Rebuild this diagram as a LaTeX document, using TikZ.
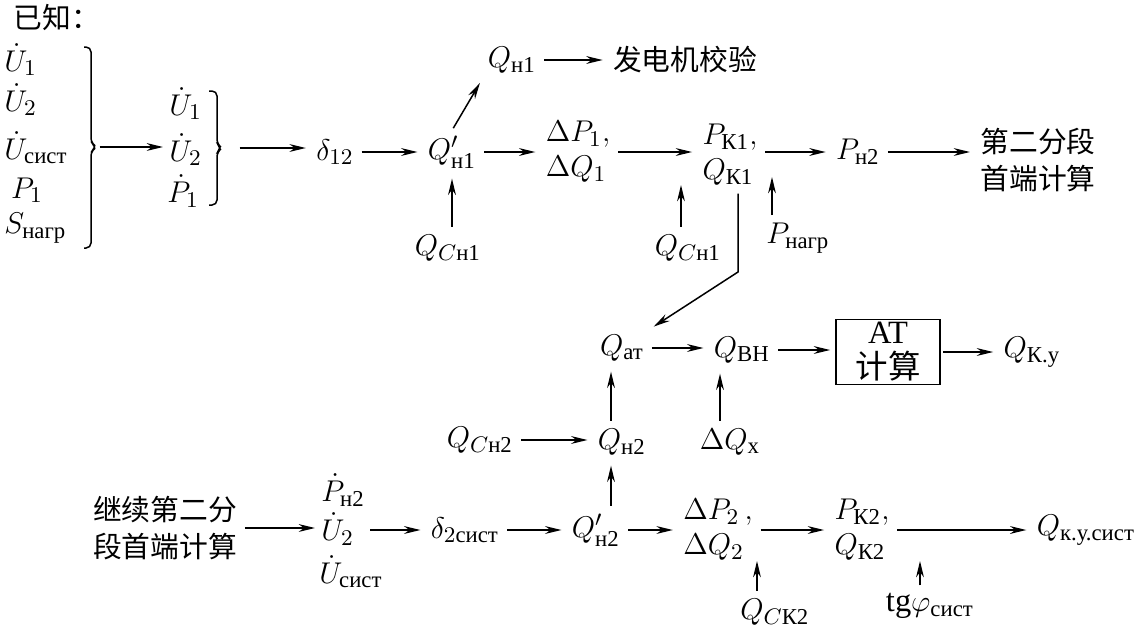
\documentclass[tikz,border=0pt]{standalone}
\usepackage{amsmath}
\usepackage{fontspec}
\setmainfont{Liberation Serif}
\newfontfamily\cjk{Noto Sans CJK SC}
\usetikzlibrary{arrows.meta}

\begin{document}
\begin{tikzpicture}[x=0.4pt, y=-0.4pt, every node/.style={font=\fontsize{13}{14}\selectfont, inner sep=2pt}]
\tikzstyle{flow}=[-{Stealth[length=2.3mm,width=1.1mm]}, line width=0.6pt, shorten <=1pt, shorten >=2pt]
\tikzstyle{zh}=[font=\fontsize{11.5}{15}\selectfont\cjk, align=center]
\tikzstyle{pair}=[align=left]
\tikzstyle{stack}=[anchor=west, inner sep=0.3pt]
\tikzstyle{calcbox}=[draw, line width=0.7pt, minimum width=41.6pt, minimum height=26pt, align=center, inner sep=1pt]
\tikzstyle{brace}=[line width=0.6pt, rounded corners=2pt]
\useasboundingbox (0,0) rectangle (1134,634);

% given data
\node[zh, anchor=west] (known) at (8,18) {已知：};
\node[stack] (u1a) at (3,60) {$\dot U_1$};
\node[stack] (u2a) at (3,100) {$\dot U_2$};
\node[stack] (usa) at (3,148) {$\dot U_{\text{сист}}$};
\node[stack] (p1a) at (10,190) {$P_1$};
\node[stack] (sa) at (3,228) {$S_{\text{нагр}}$};
\draw[brace] (84,47) -- (91,47) -- (91,143) -- (97,147) -- (91,151) -- (91,248) -- (84,248);
\coordinate (braceA) at (97,147);

\node[stack] (u1b) at (168,104) {$\dot U_1$};
\node[stack] (u2b) at (168,150) {$\dot U_2$};
\node[stack] (p1b) at (166,191) {$\dot P_1$};
\draw[brace] (209,91) -- (217,91) -- (217,144) -- (222,148) -- (217,152) -- (217,205) -- (209,205);
\coordinate (braceB) at (222,148);

% first section
\node (d12) at (335,152) {$\delta_{12}$};
\node (qn1p) at (452,152) {$Q'_{\text{н1}}$};
\node (qn1) at (512,60) {$Q_{\text{н1}}$};
\node[zh] (gen) at (685,60) {发电机校验};
\node[pair] (dpq1) at (578,152) {$\Delta P_1,$\\$\Delta Q_1$};
\node[pair] (pk1) at (730,155) {$P_{\text{К1}},$\\$Q_{\text{К1}}$};
\node (pn2) at (858,152) {$P_{\text{н2}}$};
\node[zh] (sec2) at (1038,160) {第二分段\\首端计算};
\node (qcn1a) at (448,248) {$Q_{C\text{н1}}$};
\node (qcn1b) at (688,248) {$Q_{C\text{н1}}$};
\node (pload) at (798,238) {$P_{\text{нагр}}$};
\coordinate (j1) at (681,180);
\coordinate (j2) at (772,172);

% autotransformer
\node (qat) at (622,348) {$Q_{\text{ат}}$};
\node (qvn) at (742,350) {$Q_{\text{ВН}}$};
\node[calcbox] (at) at (888,352) {AT\\{\cjk 计算}};
\node (qky) at (1032,352) {$Q_{\text{К.у}}$};
\node (qcn2) at (480,440) {$Q_{C\text{н2}}$};
\node (qn2) at (622,442) {$Q_{\text{н2}}$};
\node (dqx) at (730,442) {$\Delta Q_{\text{х}}$};
\coordinate (kbend) at (738,272);
\coordinate (vq) at (611,0);
\coordinate (vx) at (720,0);

% second section
\node[zh] (cont) at (165,528) {继续第二分\\段首端计算};
\node[stack] (pn2d) at (320,490) {$\dot P_{\text{н2}}$};
\node[stack] (u2c) at (320,529) {$\dot U_2$};
\node[stack] (usc) at (318,572) {$\dot U_{\text{сист}}$};
\node (d2s) at (465,530) {$\delta_{2\text{сист}}$};
\node (qn2p) at (596,530) {$Q'_{\text{н2}}$};
\node[pair] (dpq2) at (718,530) {$\Delta P_2\,,$\\$\Delta Q_2$};
\node[pair] (pk2) at (862,530) {$P_{\text{К2}},$\\$Q_{\text{К2}}$};
\node (qkys) at (1086,530) {$Q_{\text{к.у.сист}}$};
\node (qck2) at (775,612) {$Q_{C\text{К2}}$};
\node (tgphi) at (930,606) {tg$\varphi_{\text{сист}}$};
\coordinate (j3) at (757,556);
\coordinate (j4) at (920,556);

\draw[flow] (braceA) -- (braceA -| u2b.west);
\draw[flow, shorten <=7pt] (braceB) -- (braceB -| d12.west);
\draw[flow] (d12) -- (d12 -| qn1p.west);
\draw[flow] (qn1p.north) -- (qn1.south west);
\draw[flow] (qn1) -- (qn1 -| gen.west);
\draw[flow] (qn1p) -- (qn1p -| dpq1.west);
\draw[flow] (dpq1) -- (dpq1 -| pk1.west);
\draw[flow] (pk1.east |- pn2) -- (pn2.west);
\draw[flow] (pn2) -- (pn2 -| sec2.west);
\draw[flow] (qcn1a.north -| qn1p) -- (qn1p.south);
\draw[flow] (j1 |- qcn1b.north) -- (j1);
\draw[flow] (j2 |- pload.north) -- (j2);
\draw[flow] (kbend |- pk1.south) -- (kbend) -- (qat.north east);
\draw[flow] (qat) -- (qat -| qvn.west);
\draw[flow] (qvn) -- (qvn -| at.west);
\draw[flow] (at) -- (at -| qky.west);
\draw[flow] (qcn2) -- (qcn2 -| qn2.west);
\draw[flow] (vq |- qn2.north) -- (vq |- qat.south);
\draw[flow] (vx |- dqx.north) -- (vx |- qvn.south);
\draw[flow] (cont) -- (cont -| u2c.west);
\draw[flow, shorten <=6pt] (u2c.east |- d2s) -- (d2s.west);
\draw[flow] (d2s) -- (d2s -| qn2p.west);
\draw[flow] (vq |- qn2p.north) -- (vq |- qn2.south);
\draw[flow] (qn2p) -- (qn2p -| dpq2.west);
\draw[flow] (dpq2) -- (dpq2 -| pk2.west);
\draw[flow] (pk2) -- (pk2 -| qkys.west);
\draw[flow] (j3 |- qck2.north) -- (j3);
\draw[flow] (j4 |- tgphi.north) -- (j4);
\end{tikzpicture}
\end{document}
